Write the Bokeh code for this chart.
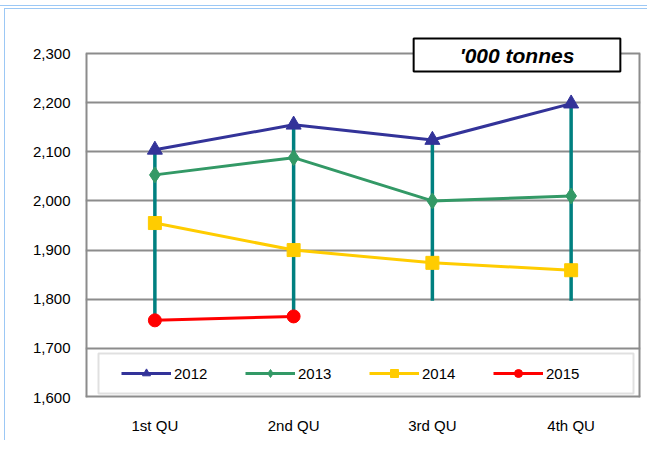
from bokeh.plotting import figure
from bokeh.models import (FactorRange, Range1d, SingleIntervalTicker, NumeralTickFormatter,
                          Legend, LegendItem, Label, BoxAnnotation, InlineStyleSheet)
from bokeh.embed import file_html
from bokeh.resources import INLINE

quarters = ["1st QU", "2nd QU", "3rd QU", "4th QU"]
years = ["2012", "2013", "2014", "2015"]
s2012 = [2104, 2155, 2124, 2198]
s2013 = [2053, 2088, 2000, 2010]
s2014 = [1955, 1900, 1874, 1859]
s2015 = [1757, 1765]
range_low = [1757, 1765, 1797, 1797]
range_high = [max(v) for v in zip(s2012, s2013, s2014)]
y_min, y_max = 1600, 2300
y_ticks_step = 100
unit_label = "'000 tonnes"

FONT = "Liberation Sans"
W, H = 647, 440
LEFT, RIGHT, TOP, BOTTOM = 85, 7, 30, 43
frame_h = H - TOP - BOTTOM
px_per_unit = (frame_h - (53 - TOP)) / (y_max - y_min)   # 2300 gridline sits 23px below frame top
y_top = y_min + frame_h / px_per_unit

p = figure(width=W, height=H, x_range=FactorRange(*quarters), y_range=Range1d(y_min, y_top),
           output_backend="svg", toolbar_location=None,
           min_border_left=LEFT, min_border_right=RIGHT, min_border_top=TOP, min_border_bottom=BOTTOM)
p.background_fill_color = "white"
p.border_fill_alpha = 0
p.outline_line_color = None
blue = "#9cc8f5"
p.stylesheets = [InlineStyleSheet(css=(
    ":host { background:"
    f" linear-gradient({blue},{blue}) 0 5px / 100% 1px no-repeat,"
    f" linear-gradient({blue},{blue}) 4px 8px / 100% 1px no-repeat,"
    f" linear-gradient({blue},{blue}) 4px 8px / 1px 100% no-repeat,"
    " white; }"))]

p.xgrid.grid_line_color = None
p.ygrid.grid_line_color = "#8c8c8c"
p.ygrid.grid_line_width = 2

p.yaxis.ticker = SingleIntervalTicker(interval=y_ticks_step)
p.yaxis.formatter = NumeralTickFormatter(format="0,0")
for ax in (p.xaxis[0], p.yaxis[0]):
    ax.axis_line_color = None
    ax.major_tick_line_color = None
    ax.minor_tick_line_color = None
    ax.major_tick_out = 0
    ax.major_tick_in = 0
    ax.minor_tick_out = 0
    ax.major_label_text_font = FONT
    ax.major_label_text_font_size = "15px"
    ax.major_label_text_color = "black"
p.yaxis.major_label_standoff = 15
p.xaxis.major_label_standoff = 19

# plot-area border (left, right, bottom), drawn at the range edges
n = len(quarters)
p.segment(x0=[0, n, 0], y0=[y_min, y_min, y_min], x1=[0, n, n], y1=[y_max, y_max, y_min],
          line_color="#8c8c8c", line_width=4)

# high-low lines
p.segment(x0=quarters, y0=range_high, x1=quarters, y1=range_low, line_color="#008080", line_width=3.5)

series = [
    (s2012, "#333399", "triangle", 15),
    (s2013, "#339966", "diamond", 16),
    (s2014, "#FFCC00", "square", 13),
    (s2015, "#FF0000", "circle", 13),
]
items = []
for yr, (vals, col, mk, sz) in zip(years, series):
    xs = quarters[:len(vals)]
    lr = p.line(xs, vals, line_color=col, line_width=3)
    sr = p.scatter(xs, vals, marker=mk, size=sz, fill_color=col, line_color=col)
    items.append(LegendItem(label=yr, renderers=[lr, sr]))

# legend frame
to_x = lambda px: (px - LEFT) / (W - LEFT - RIGHT) * n
to_y = lambda py: y_min + (H - BOTTOM - py) / px_per_unit
p.add_layout(BoxAnnotation(left=to_x(98), right=to_x(633), top=to_y(353), bottom=to_y(393),
                           fill_color="white", fill_alpha=1, line_color="#999999", line_width=2,
                           level="overlay"))

legend = Legend(items=items, orientation="horizontal", location=(36, 14),
                glyph_width=50, glyph_height=20, label_standoff=3, label_width=67, spacing=4,
                padding=10, margin=0,
                label_text_font=FONT, label_text_font_size="15px", label_text_color="black",
                border_line_color=None, background_fill_alpha=0)
p.add_layout(legend, "center")

lab = Label(x=to_x(516.5), y=to_y(54.5), text=unit_label, text_align="center", text_baseline="middle",
            text_font=FONT, text_font_size="21px", text_font_style="bold italic", text_color="black",
            border_line_color="black", border_line_width=2,
            background_fill_color="white", background_fill_alpha=1,
            padding=dict(left=46, right=46, top=5, bottom=5))
p.add_layout(lab)

open("out.html", "w").write(file_html(p, INLINE))
